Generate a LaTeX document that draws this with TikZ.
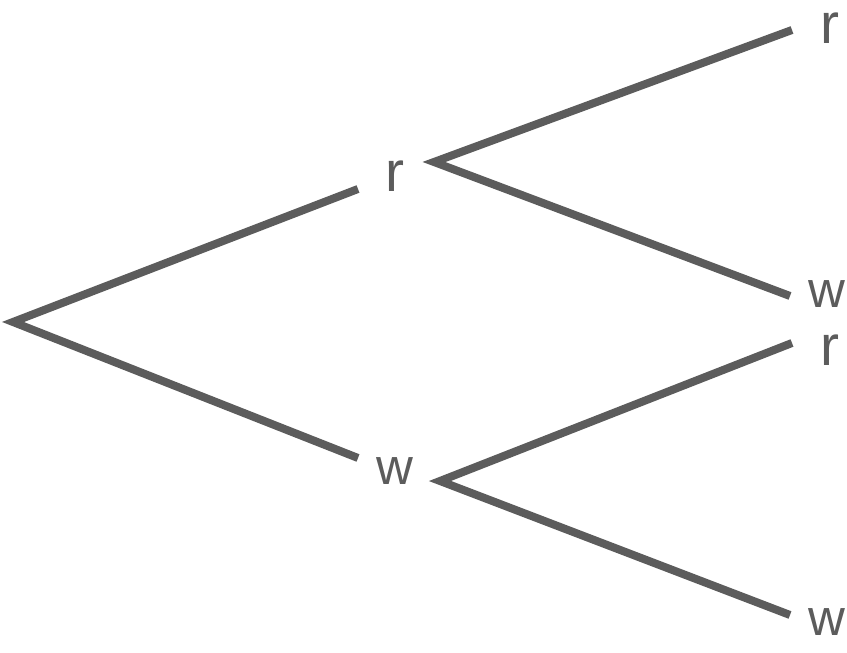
\documentclass[tikz,border=0pt]{standalone}
\usepackage{fontspec}
\setmainfont{Liberation Sans}
\definecolor{treegray}{HTML}{5C5C5C}
\begin{document}
\begin{tikzpicture}[x=1pt,y=1pt,
  branch/.style={draw=treegray,line width=8pt,line cap=butt,line join=miter},
  lblr/.style={inner sep=0pt,text=treegray,font=\fontsize{57}{57}\selectfont},
  lblw/.style={inner sep=0pt,text=treegray,font=\fontsize{51}{51}\selectfont}]
\useasboundingbox (0,0) rectangle (847,653);
% vertices and free ends
\coordinate (root) at (13,331);
\coordinate (ra) at (358,464);
\coordinate (wa) at (358,195);
\coordinate (rv) at (434,491);
\coordinate (wv) at (440,172);
\coordinate (rr) at (792,623);
\coordinate (rw) at (790,357);
\coordinate (wr) at (792,310);
\coordinate (ww) at (790,38);
% labels
\node[lblr] (Lr) at (395,477) {r};
\node[lblw] (Lw) at (395,182) {w};
\node[lblr] (Lrr) at (830,625) {r};
\node[lblw] (Lrw) at (827,359) {w};
\node[lblr] (Lwr) at (830,303) {r};
\node[lblw] (Lww) at (827,31) {w};
% branches
\draw[branch] (ra) -- (root) -- (wa);
\draw[branch] (rr) -- (rv) -- (rw);
\draw[branch] (wr) -- (wv) -- (ww);
\end{tikzpicture}
\end{document}
